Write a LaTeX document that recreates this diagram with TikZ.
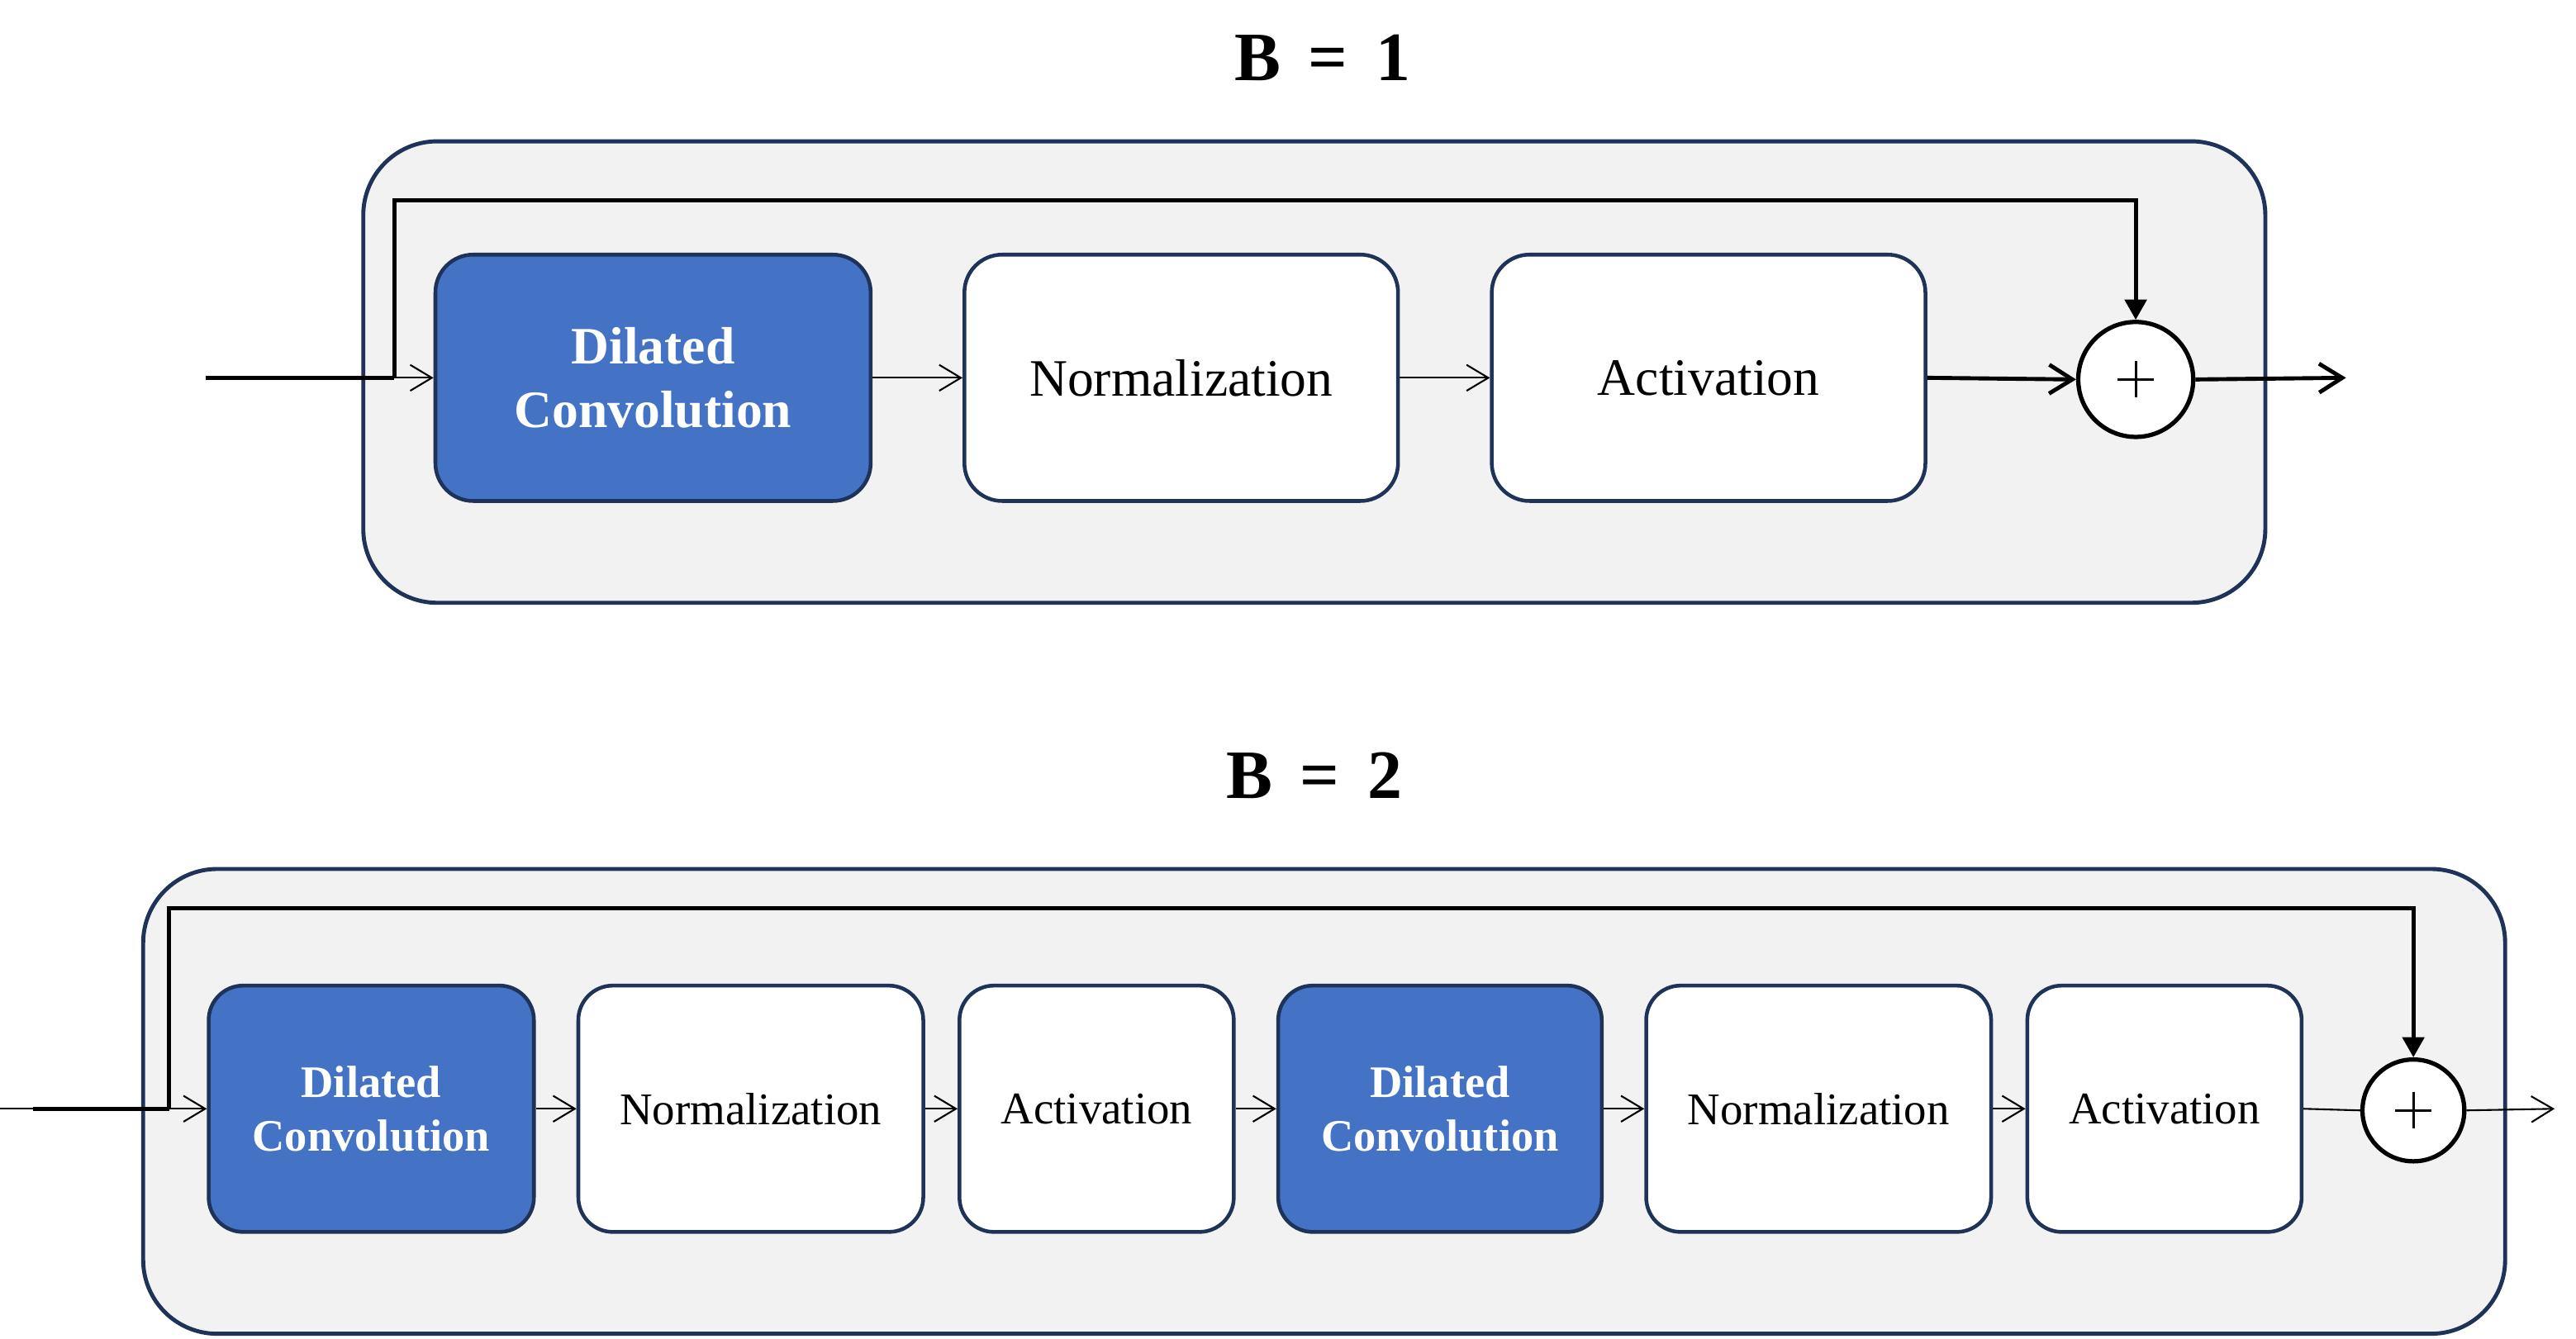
\documentclass[tikz,border=0pt]{standalone}
\usepackage{fontspec}
\setmainfont{Liberation Serif}
\usetikzlibrary{arrows.meta}
\definecolor{navy}{HTML}{1F3358}
\definecolor{dcblue}{HTML}{4472C4}
\definecolor{panelgray}{HTML}{F2F2F2}
\begin{document}
\begin{tikzpicture}[x=0.02cm,y=-0.02cm,
  panelbox/.style={draw=navy, line width=1.4pt, fill=panelgray, rounded corners=0.9cm, inner sep=0pt},
  dcbox/.style={draw=navy, line width=1.3pt, fill=dcblue, text=white, align=center, inner sep=0pt, minimum height=3cm},
  plainbox/.style={draw=navy, line width=1.3pt, fill=white, align=center, inner sep=0pt, minimum height=3cm},
  sumnode/.style={circle, draw=black, line width=1.5pt, fill=white, inner sep=0pt},
  titletext/.style={font=\fontsize{24}{28}\selectfont\bfseries},
  bigbold/.style={font=\fontsize{18.2}{22}\selectfont\bfseries},
  bignorm/.style={font=\fontsize{18.2}{22}\selectfont},
  smallbold/.style={font=\fontsize{15.6}{18.7}\selectfont\bfseries},
  smallnorm/.style={font=\fontsize{15.7}{19}\selectfont},
  thinarrow/.style={line width=0.6pt, -{Straight Barb[length=7.5pt,width=9pt]}},
  thickarrow/.style={line width=1.4pt, -{Straight Barb[length=8pt,width=10pt]}},
  thickline/.style={line width=1.5pt},
  thinline/.style={line width=0.6pt},
  skiparrow/.style={line width=1.4pt, -{Triangle[length=7pt,width=7.5pt]}},
  plusline/.style={line width=0.8pt}
]
\useasboundingbox (0,0) rectangle (1568,815);

% ---------------- B = 1 ----------------
\node[titletext] (t1) at (805,35) {B\hspace{0.4em}=\hspace{0.4em}1};
\node[panelbox, minimum width=23.16cm, minimum height=5.62cm] (pan1) at (800,226.5) {};
\node[dcbox, bigbold, rounded corners=0.46cm, minimum width=5.3cm] (dc1) at (397.5,230) {Dilated\\Convolution};
\node[plainbox, bignorm, rounded corners=0.46cm, minimum width=5.28cm] (nm1) at (719,230) {Normalization};
\node[plainbox, bignorm, rounded corners=0.46cm, minimum width=5.28cm] (ac1) at (1040,230) {Activation};
\node[sumnode, minimum size=1.4cm] (p1) at (1300,231) {};
\draw[plusline] (p1.center) ++(-11,0) -- ++(22,0);
\draw[plusline] (p1.center) ++(0,-11) -- ++(0,22);

\coordinate (in1) at (125,230);
\coordinate (br1) at (240,230);
\coordinate (sk1) at (240,122);
\coordinate (out1) at (1428,230);

\draw[thickline] (in1) -- (br1);
\draw[thinarrow] (br1) -- (dc1.west);
\draw[skiparrow] (br1) -- (sk1) -| (p1.north);
\draw[thinarrow] (dc1.east) -- (nm1.west);
\draw[thinarrow] (nm1.east) -- (ac1.west);
\draw[thickarrow] (ac1.east) -- (p1.west);
\draw[thickarrow] (p1.east) -- (out1);

% ---------------- B = 2 ----------------
\node[titletext] (t2) at (800,472) {B\hspace{0.4em}=\hspace{0.4em}2};
\node[panelbox, minimum width=28.76cm, minimum height=5.66cm] (pan2) at (806,670.5) {};
\node[dcbox, smallbold, rounded corners=0.42cm, minimum width=3.96cm] (dc2a) at (226,675) {Dilated\\Convolution};
\node[plainbox, smallnorm, rounded corners=0.42cm, minimum width=4.2cm] (nm2a) at (457,675) {Normalization};
\node[plainbox, smallnorm, rounded corners=0.42cm, minimum width=3.34cm] (ac2a) at (667.5,675) {Activation};
\node[dcbox, smallbold, rounded corners=0.42cm, minimum width=3.94cm] (dc2b) at (876.5,675) {Dilated\\Convolution};
\node[plainbox, smallnorm, rounded corners=0.42cm, minimum width=4.2cm] (nm2b) at (1107,675) {Normalization};
\node[plainbox, smallnorm, rounded corners=0.42cm, minimum width=3.34cm] (ac2b) at (1317.5,675) {Activation};
\node[sumnode, minimum size=1.24cm] (p2) at (1469,676) {};
\draw[plusline] (p2.center) ++(-11,0) -- ++(22,0);
\draw[plusline] (p2.center) ++(0,-11) -- ++(0,22);

\coordinate (in2a) at (0,675);
\coordinate (in2b) at (20,675);
\coordinate (br2) at (103,675);
\coordinate (sk2) at (103,553);
\coordinate (out2) at (1555,675);

\draw[thinline] (in2a) -- (in2b);
\draw[thickline] (in2b) -- (br2);
\draw[thinarrow] (br2) -- (dc2a.west);
\draw[skiparrow] (br2) -- (sk2) -| (p2.north);
\draw[thinarrow] (dc2a.east) -- (nm2a.west);
\draw[thinarrow] (nm2a.east) -- (ac2a.west);
\draw[thinarrow] (ac2a.east) -- (dc2b.west);
\draw[thinarrow] (dc2b.east) -- (nm2b.west);
\draw[thinarrow] (nm2b.east) -- (ac2b.west);
\draw[thinline] (ac2b.east) -- (p2.west);
\draw[thinarrow] (p2.east) -- (out2);
\end{tikzpicture}
\end{document}
